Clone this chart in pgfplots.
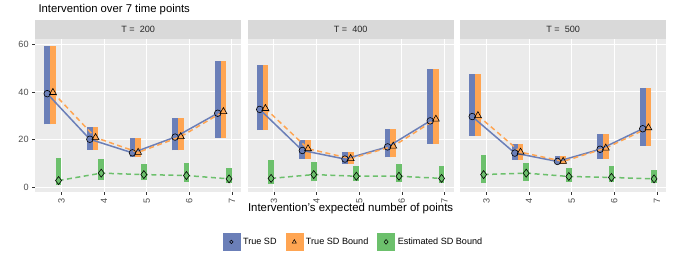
\documentclass[border=0pt]{standalone}
\usepackage{fontspec}
\setmainfont{Liberation Sans}
\usepackage{pgfplots}
\usepackage{pgfplotstable}
\pgfplotsset{compat=1.18}
\definecolor{cblue}{HTML}{6B7FB8}
\definecolor{corange}{HTML}{FFA552}
\definecolor{cgreen}{HTML}{6CC06C}
\definecolor{panelbg}{HTML}{EBEBEB}
\definecolor{stripbg}{HTML}{D9D9D9}
\definecolor{ticklab}{HTML}{4D4D4D}
\definecolor{tickcol}{HTML}{333333}

% x  blo bhi bm(True SD) om(True SD Bound) glo ghi gm(Estimated SD Bound)
\pgfplotstableread{
x blo bhi bm om glo ghi gm
3 26.4 59.3 39.3 39.8 1.0 12.4 2.9
4 15.9 25.5 20.2 20.9 3.1 12.1 6.0
5 12.6 20.8 14.5 14.7 3.1 10.0 5.4
6 15.5 28.9 21.1 21.3 2.4 10.2 5.0
7 20.8 52.9 31.1 31.8 1.8 8.2 3.6
}\tA
\pgfplotstableread{
x blo bhi bm om glo ghi gm
3 24.0 51.1 32.7 33.1 1.5 11.4 3.8
4 12.0 20.0 15.5 16.2 2.5 10.6 5.4
5 10.0 14.8 11.9 12.1 2.7 8.9 4.7
6 12.6 24.4 17.0 17.3 2.2 9.9 4.7
7 18.3 49.8 27.9 28.6 1.8 8.8 3.8
}\tB
\pgfplotstableread{
x blo bhi bm om glo ghi gm
3 21.6 47.7 29.7 30.1 1.8 13.7 5.4
4 11.6 18.3 14.4 14.8 2.9 10.3 6.0
5 9.8 13.3 10.9 10.9 2.4 8.0 4.6
6 11.9 22.5 16.0 16.5 2.2 9.1 4.2
7 17.4 41.7 24.6 25.0 1.8 7.4 3.6
}\tC

\newcommand{\smallfont}{\fontsize{9.1}{10.5}\selectfont}

\pgfplotsset{
  facet/.style={
    width=206.3pt, height=153pt, scale only axis,
    anchor=south west,
    xmin=2.38, xmax=7.22, ymin=-1.9, ymax=62.2,
    xtick={3,4,5,6,7}, ytick={0,20,40,60},
    /pgf/number format/assume math mode=true,
    axis background/.style={fill=panelbg},
    axis line style={draw=none},
    grid=major, major grid style={white, line width=1pt},
    tick style={color=tickcol, line width=0.5pt},
    major tick length=2.85pt, tick align=outside,
    xtick pos=bottom, ytick pos=left,
    x tick label style={rotate=90, anchor=east, font=\smallfont, text=ticklab},
    y tick label style={font=\smallfont, text=ticklab},
  },
  barB/.style={forget plot, draw=none, no markers,
    error bars/.cd, y dir=plus, y explicit, error mark=none,
    error bar style={draw=#1, line width=5.7pt}},
}

\newcommand{\panel}[1]{%
  \addplot[barB=cblue] table[x expr=\thisrow{x}-0.3333, y=blo, y error plus expr=\thisrow{bhi}-\thisrow{blo}] {#1};
  \addplot[barB=corange] table[x expr=\thisrow{x}-0.2, y=blo, y error plus expr=\thisrow{bhi}-\thisrow{blo}] {#1};
  \addplot[barB=cgreen] table[x expr=\thisrow{x}-0.0667, y=glo, y error plus expr=\thisrow{ghi}-\thisrow{glo}] {#1};
  \addplot[forget plot, cblue, line width=1.5pt, mark=none] table[x expr=\thisrow{x}-0.3333, y=bm] {#1};
  \addplot[forget plot, corange, line width=1.5pt, dash pattern=on 5pt off 3.5pt, mark=none] table[x expr=\thisrow{x}-0.2, y=om] {#1};
  \addplot[forget plot, cgreen, line width=1.5pt, dash pattern=on 5pt off 3.5pt, mark=none] table[x expr=\thisrow{x}-0.0667, y=gm] {#1};
  \addplot[forget plot, only marks, mark=o, mark size=3.3pt, black, line width=0.6pt] table[x expr=\thisrow{x}-0.3333, y=bm] {#1};
  \addplot[forget plot, only marks, mark=triangle, mark size=4pt, black, line width=0.6pt] table[x expr=\thisrow{x}-0.2, y=om] {#1};
  \addplot[forget plot, only marks, mark=diamond, mark size=4pt, black, line width=0.6pt] table[x expr=\thisrow{x}-0.0667, y=gm] {#1};
}

\begin{document}
\begin{tikzpicture}
\path[use as bounding box] (0,0) rectangle (673pt,262pt);

\begin{axis}[facet, name=p1, at={(35pt,70pt)}]
\panel{\tA}
\end{axis}

\begin{axis}[facet, name=p2, at={(247.5pt,70pt)}, yticklabels={}, ytick style={draw=none},
  legend style={at={(0.516,-0.326)}, anchor=center, draw=none, fill=none,
    legend columns=3,
    /tikz/every even column/.append style={column sep=6pt},
    nodes={inner xsep=3pt, inner ysep=1pt}}]
\panel{\tB}
\addlegendimage{legend image code/.code={\fill[cblue] (0pt,-8.5pt) rectangle (17pt,8.5pt); \draw[black, line width=0.5pt] (8.5pt,0pt) circle (1.7pt);}}
\addlegendentry{\smallfont True SD}
\addlegendimage{legend image code/.code={\fill[corange] (0pt,-8.5pt) rectangle (17pt,8.5pt); \draw[black, line width=0.5pt] (6.5pt,-1.2pt) -- (10.5pt,-1.2pt) -- (8.5pt,2.3pt) -- cycle;}}
\addlegendentry{\smallfont True SD Bound}
\addlegendimage{legend image code/.code={\fill[cgreen] (0pt,-8.5pt) rectangle (17pt,8.5pt); \draw[black, line width=0.5pt] (8.5pt,-2.4pt) -- (10.5pt,0pt) -- (8.5pt,2.4pt) -- (6.5pt,0pt) -- cycle;}}
\addlegendentry{\smallfont Estimated SD Bound}
\end{axis}

\begin{axis}[facet, name=p3, at={(460pt,70pt)}, yticklabels={}, ytick style={draw=none}]
\panel{\tC}
\end{axis}

\foreach \p/\t in {p1/200, p2/400, p3/500}{
  \fill[stripbg] (\p.north west) rectangle ([yshift=18.5pt]\p.north east);
  \node[font=\smallfont, text=black!85] at ([yshift=9.25pt]\p.north) {T =\ \ \t};
}

\node[anchor=base west, font=\fontsize{11.3}{13}\selectfont] at (35pt,249.3pt) {Intervention over 7 time points};
\node[anchor=base, font=\fontsize{11.4}{13}\selectfont] at (350.6pt,50.3pt) {Intervention's expected number of points};
\end{tikzpicture}
\end{document}
